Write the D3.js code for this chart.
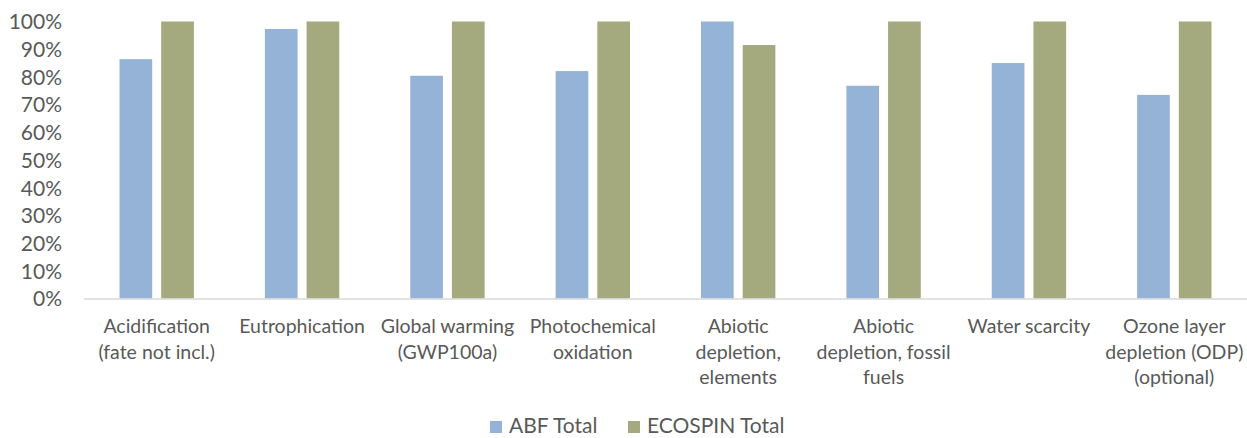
<!DOCTYPE html>
<html>
<head>
<meta charset="utf-8">
<script src="https://cdn.jsdelivr.net/npm/d3@7"></script>
<style>
  html, body { margin: 0; padding: 0; background: #fff; }
  svg { display: block; }
  text { font-family: Lato, "Open Sans", sans-serif; fill: #595959; }
</style>
</head>
<body>
<svg id="chart" width="1247" height="438"></svg>
<script>
// Impact categories (x axis), with their wrapped tick-label lines
const categories = [
  "Acidification (fate not incl.)",
  "Eutrophication",
  "Global warming (GWP100a)",
  "Photochemical oxidation",
  "Abiotic depletion, elements",
  "Abiotic depletion, fossil fuels",
  "Water scarcity",
  "Ozone layer depletion (ODP) (optional)"
];
const categoryLines = [
  ["Acidification", "(fate not incl.)"],
  ["Eutrophication"],
  ["Global warming", "(GWP100a)"],
  ["Photochemical", "oxidation"],
  ["Abiotic", "depletion,", "elements"],
  ["Abiotic", "depletion, fossil", "fuels"],
  ["Water scarcity"],
  ["Ozone layer", "depletion (ODP)", "(optional)"]
];

// Series names and relative results (share of the larger of the two)
const seriesNames = ["ABF Total", "ECOSPIN Total"];
const abfTotal     = [0.864, 0.973, 0.804, 0.821, 1.000, 0.768, 0.850, 0.735];
const ecospinTotal = [1.000, 1.000, 1.000, 1.000, 0.915, 1.000, 1.000, 1.000];

// Y axis ticks
const yTicks = [0, 0.1, 0.2, 0.3, 0.4, 0.5, 0.6, 0.7, 0.8, 0.9, 1.0];

const colors = { "ABF Total": "#95B3D7", "ECOSPIN Total": "#A4AA7E" };

const rows = categories.map((c, i) => ({
  category: c,
  lines: categoryLines[i],
  values: [
    { series: seriesNames[0], value: abfTotal[i] },
    { series: seriesNames[1], value: ecospinTotal[i] }
  ]
}));

const svg = d3.select("#chart");
const plot = { left: 84, right: 1247, top: 21.5, bottom: 298.5 };

const x0 = d3.scaleBand()
  .domain(categories)
  .range([plot.left, plot.right])
  .paddingInner(0)
  .paddingOuter(0);

const groupPad = 35.5;
const x1 = d3.scaleBand()
  .domain(seriesNames)
  .range([groupPad, x0.bandwidth() - groupPad])
  .paddingInner(0.216)
  .paddingOuter(0);

const y = d3.scaleLinear().domain([0, 1]).range([plot.bottom, plot.top]);

// Y axis labels (no axis line, no gridlines)
const yAxis = d3.axisLeft(y)
  .tickValues(yTicks)
  .tickFormat(d3.format(".0%"))
  .tickSize(0)
  .tickPadding(0);

svg.append("g")
  .attr("transform", `translate(62,0)`)
  .call(yAxis)
  .call(g => g.select(".domain").remove())
  .call(g => g.selectAll("text")
    .attr("font-family", "Lato, 'Open Sans', sans-serif")
    .attr("font-size", 21)
    .attr("fill", "#595959")
    .attr("dy", "0.35em"));

// Bars
const groups = svg.append("g")
  .selectAll("g")
  .data(rows)
  .join("g")
  .attr("transform", d => `translate(${x0(d.category)},0)`);

groups.selectAll("rect")
  .data(d => d.values)
  .join("rect")
  .attr("x", d => x1(d.series))
  .attr("width", x1.bandwidth())
  .attr("y", d => y(d.value))
  .attr("height", d => y(0) - y(d.value))
  .attr("fill", d => colors[d.series]);

// Category axis line
svg.append("line")
  .attr("x1", plot.left)
  .attr("x2", plot.right)
  .attr("y1", y(0) + 0.5)
  .attr("y2", y(0) + 0.5)
  .attr("stroke", "#D9D9D9")
  .attr("stroke-width", 1.5);

// Category labels
const xLabels = svg.append("g")
  .selectAll("text")
  .data(rows)
  .join("text")
  .attr("text-anchor", "middle")
  .attr("font-size", 19.5)
  .attr("x", d => x0(d.category) + x0.bandwidth() / 2)
  .attr("y", 333);

xLabels.selectAll("tspan")
  .data(d => d.lines.map(l => ({ line: l, x: x0(d.category) + x0.bandwidth() / 2 })))
  .join("tspan")
  .attr("x", d => d.x)
  .attr("dy", (d, i) => i === 0 ? 0 : 25.5)
  .text(d => d.line);

// Legend
const legendItems = [
  { name: seriesNames[0], x: 490 },
  { name: seriesNames[1], x: 628 }
];
const legend = svg.append("g");
const li = legend.selectAll("g")
  .data(legendItems)
  .join("g")
  .attr("transform", d => `translate(${d.x},421)`);
li.append("rect")
  .attr("width", 12)
  .attr("height", 12)
  .attr("fill", d => colors[d.name]);
li.append("text")
  .attr("x", 19)
  .attr("y", 12)
  .attr("font-size", 21)
  .text(d => d.name);
</script>
</body>
</html>
